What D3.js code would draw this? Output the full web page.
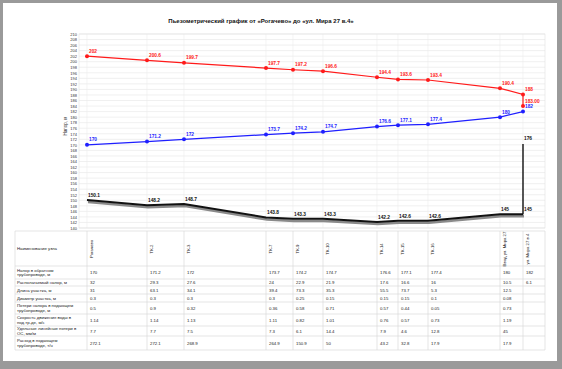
<!DOCTYPE html>
<html>
<head>
<meta charset="utf-8">
<script src="https://cdn.jsdelivr.net/npm/d3@7"></script>
<style>
  body { margin: 0; background: #fff; }
  svg { font-family: "Liberation Sans", Arial, sans-serif; }
</style>
</head>
<body>
<div id="chart"></div>
<script>
// nodes along the route, station = position along the chart's x axis
const nodes = ["Рогачево", "ТК-2", "ТК-3", "ТК-7", "ТК-9", "ТК-10", "ТК-14", "ТК-15", "ТК-16", "Ввод ул. Мира 27", "ул. Мира 27 в.4"];
const stations = [0, 60, 97, 179, 206, 236, 290, 311, 341, 413, 436];
const stationEnd = 458;

// supply head (red), last node has two points
const supplyX = [0, 60, 97, 179, 206, 236, 290, 311, 341, 413, 436, 436];
const supply = [202, 200.5, 199.6, 197.7, 197.1, 196.6, 194.4, 193.6, 193.4, 190.4, 188.2, 184];
const supplyLabels = ["202", "200.6", "199.7", "197.7", "197.2", "196.6", "194.4", "193.6", "193.4", "190.4", "188", "183.00"];

// return head (blue)
const returnHead = [170, 171.2, 172, 173.7, 174.2, 174.7, 176.6, 177.1, 177.4, 180, 182];

// ground profile (black)
const groundX = [0, 60, 97, 179, 206, 236, 290, 311, 341, 413, 436, 436];
const ground = [150.1, 148.2, 148.7, 143.8, 143.3, 143.3, 142.2, 142.6, 142.6, 145, 145, 170.3];
const groundLabels = ["150.1", "148.2", "148.7", "143.8", "143.3", "143.3", "142.2", "142.6", "142.6", "145", "145", "176"];

const yTicks = d3.range(140, 211, 2);

// table under the chart
const rowLabels = [
  ["Напор в обратном", "трубопроводе, м"],
  ["Располагаемый напор, м"],
  ["Длина участка, м"],
  ["Диаметр участка, м"],
  ["Потери напора в подающем", "трубопроводе, м"],
  ["Скорость движения воды в", "под.тр-де, м/с"],
  ["Удельные линейные потери в", "ОС, мм/м"],
  ["Расход в подающем", "трубопроводе, т/ч"]
];
const rowReturn = ["170", "171.2", "172", "173.7", "174.2", "174.7", "176.6", "177.1", "177.4", "180", "182"];
const rowAvail = ["32", "29.3", "27.6", "24", "22.9", "21.9", "17.6", "16.6", "16", "10.5", "6.1"];
const rowLength = ["31", "63.1", "34.1", "39.4", "73.3", "35.3", "55.5", "73.7", "5.3", "12.5", ""];
const rowDiam = ["0.3", "0.3", "0.3", "0.3", "0.25", "0.15", "0.15", "0.15", "0.1", "0.08", ""];
const rowLoss = ["0.5", "0.9", "0.32", "0.36", "0.58", "0.71", "0.57", "0.44", "0.05", "0.73", ""];
const rowSpeed = ["1.14", "1.14", "1.13", "1.11", "0.82", "1.01", "0.76", "0.57", "0.73", "1.19", ""];
const rowSpec = ["7.7", "7.7", "7.5", "7.3", "6.1", "14.4", "7.9", "4.6", "12.8", "45", ""];
const rowFlow = ["272.1", "272.1", "268.9", "264.9", "150.9", "50", "43.2", "32.8", "17.9", "17.9", ""];
const tableRows = [rowReturn, rowAvail, rowLength, rowDiam, rowLoss, rowSpeed, rowSpec, rowFlow];

const W = 562, H = 369;
const svg = d3.select("#chart").append("svg").attr("width", W).attr("height", H);

// window frame
svg.append("rect").attr("width", W).attr("height", H).attr("fill", "#9a9a9a");
svg.append("rect").attr("x", 3).attr("y", 3).attr("width", 554).attr("height", 358).attr("fill", "#fff");

const x = d3.scaleLinear().domain([0, stationEnd]).range([87, 545]);
const y = d3.scaleLinear().domain([140, 210]).range([228, 34]);

const plotL = 79, plotR = 545;

// grid
svg.append("g").selectAll("line").data(yTicks).join("line")
  .attr("x1", plotL).attr("x2", plotR)
  .attr("y1", d => y(d)).attr("y2", d => y(d))
  .attr("stroke", "#e6e6e6").attr("stroke-width", 0.6);
svg.append("g").selectAll("line").data(stations).join("line")
  .attr("x1", d => x(d)).attr("x2", d => x(d))
  .attr("y1", y(210)).attr("y2", y(140))
  .attr("stroke", "#ececec").attr("stroke-width", 0.6);
svg.append("rect").attr("x", plotL).attr("y", y(210)).attr("width", plotR - plotL)
  .attr("height", y(140) - y(210)).attr("fill", "none").attr("stroke", "#e0e0e0").attr("stroke-width", 0.6);

// y axis labels
const yAxis = svg.append("g").attr("transform", `translate(${plotL},0)`)
  .call(d3.axisLeft(y).tickValues(yTicks).tickSize(0).tickPadding(2));
yAxis.select(".domain").remove();
yAxis.selectAll("text").attr("font-size", 4).attr("fill", "#333");

svg.append("text").attr("transform", `translate(67,126) rotate(-90)`)
  .attr("text-anchor", "middle").attr("font-size", 4.5).attr("fill", "#333").text("Напор, м");

// title
svg.append("text").attr("x", 261).attr("y", 23).attr("text-anchor", "middle")
  .attr("font-size", 6).attr("font-weight", "bold").attr("fill", "#111")
  .text("Пьезометрический график от «Рогачево» до «ул. Мира 27 в.4»");

// ground line with shadow
const gLine = d3.line().x((d, i) => x(groundX[i])).y(d => y(d));
const groundMain = ground.slice(0, 11);
svg.append("path").datum(groundMain).attr("d", gLine)
  .attr("transform", "translate(1,2)")
  .attr("fill", "none").attr("stroke", "#8a8a8a").attr("stroke-width", 2.6);
svg.append("path").datum(groundMain).attr("d", gLine)
  .attr("fill", "none").attr("stroke", "#111").attr("stroke-width", 2);
svg.append("path").datum(ground.slice(10)).attr("d", (d) => d3.line().x(() => x(groundX[11])).y(v => y(v))(d))
  .attr("fill", "none").attr("stroke", "#111").attr("stroke-width", 1.4);
svg.append("g").selectAll("text").data(ground).join("text")
  .attr("x", (d, i) => x(groundX[i]) + 1).attr("y", (d, i) => y(d) - (i === 11 ? 4 : 3))
  .attr("font-size", 4.8).attr("font-weight", "bold").attr("fill", "#111")
  .text((d, i) => groundLabels[i]);

// supply line
const sLine = d3.line().x((d, i) => x(supplyX[i])).y(d => y(d));
svg.append("path").datum(supply).attr("d", sLine)
  .attr("fill", "none").attr("stroke", "#ff1a1a").attr("stroke-width", 1.2);
svg.append("g").selectAll("circle").data(supply).join("circle")
  .attr("cx", (d, i) => x(supplyX[i])).attr("cy", d => y(d)).attr("r", 2)
  .attr("fill", "#ff1a1a");
svg.append("g").selectAll("text").data(supply).join("text")
  .attr("x", (d, i) => x(supplyX[i]) + 2).attr("y", d => y(d) - 3.5)
  .attr("font-size", 4.8).attr("font-weight", "bold").attr("fill", "#ff1a1a")
  .text((d, i) => supplyLabels[i]);

// return line
const rLine = d3.line().x((d, i) => x(stations[i])).y(d => y(d));
svg.append("path").datum(returnHead).attr("d", rLine)
  .attr("fill", "none").attr("stroke", "#1f1fff").attr("stroke-width", 1.2);
svg.append("g").selectAll("circle").data(returnHead).join("circle")
  .attr("cx", (d, i) => x(stations[i])).attr("cy", d => y(d)).attr("r", 2)
  .attr("fill", "#1f1fff");
svg.append("g").selectAll("text").data(returnHead).join("text")
  .attr("x", (d, i) => x(stations[i]) + 2).attr("y", d => y(d) - 3.5)
  .attr("font-size", 4.8).attr("font-weight", "bold").attr("fill", "#1f1fff")
  .text(d => d);

// table
const tableL = 15, tableR = 545;
const rowEdges = [231, 266, 279, 286, 294, 302, 314, 326, 336, 350];
const table = svg.append("g");
table.selectAll("line.h").data(rowEdges).join("line").attr("class", "h")
  .attr("x1", tableL).attr("x2", tableR).attr("y1", d => d).attr("y2", d => d)
  .attr("stroke", "#d4d4d4").attr("stroke-width", 0.6);
const colEdges = [tableL].concat(stations.map(s => x(s)), [tableR]);
table.selectAll("line.v").data(colEdges).join("line").attr("class", "v")
  .attr("x1", d => d).attr("x2", d => d).attr("y1", rowEdges[0]).attr("y2", rowEdges[rowEdges.length - 1])
  .attr("stroke", "#d4d4d4").attr("stroke-width", 0.6);

table.append("text").attr("x", 17).attr("y", 250).attr("font-size", 4.3).attr("fill", "#222")
  .text("Наименование узла");
table.selectAll("text.node").data(nodes).join("text").attr("class", "node")
  .attr("transform", (d, i) => `translate(${x(stations[i]) + 6},249) rotate(-90)`)
  .attr("text-anchor", "middle").attr("font-size", 4.3).attr("fill", "#222")
  .text(d => d);

rowLabels.forEach((lines, r) => {
  const top = rowEdges[r + 1], bot = rowEdges[r + 2];
  const mid = (top + bot) / 2;
  const t = table.append("text").attr("font-size", 4.3).attr("fill", "#222");
  lines.forEach((ln, k) => {
    t.append("tspan").attr("x", 17)
      .attr("y", mid + 1.5 + (k - (lines.length - 1) / 2) * 4.6)
      .text(ln);
  });
  table.append("g").selectAll("text").data(tableRows[r]).join("text")
    .attr("x", (d, i) => x(stations[i]) + 3).attr("y", mid + 1.6)
    .attr("font-size", 4.3).attr("fill", "#222")
    .text(d => d);
});
</script>
</body>
</html>
